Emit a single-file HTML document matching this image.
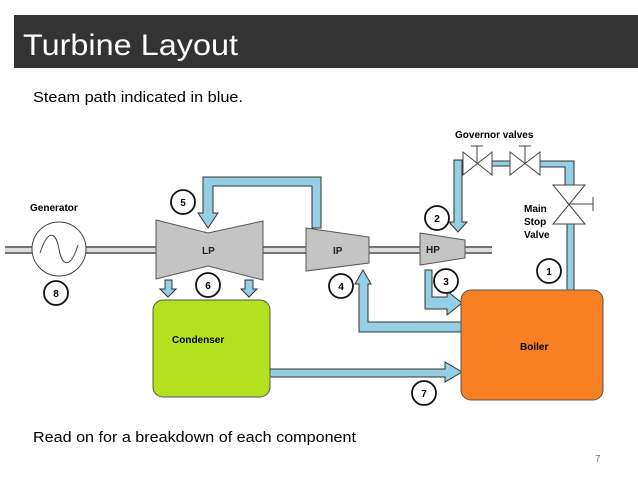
<!DOCTYPE html>
<html><head><meta charset="utf-8"><style>body{margin:0;background:#fff}svg{display:block}</style></head><body>
<svg width="638" height="479" viewBox="0 0 638 479" xmlns="http://www.w3.org/2000/svg" font-family="Liberation Sans, sans-serif">
<rect x="14" y="15" width="624" height="53" fill="#333"/>
<text x="23" y="55" font-size="30" fill="#fff" textLength="215" lengthAdjust="spacingAndGlyphs">Turbine Layout</text>
<text x="33" y="102" font-size="15" fill="#000" textLength="210" lengthAdjust="spacingAndGlyphs">Steam path indicated in blue.</text>
<text x="33" y="442" font-size="15" fill="#000" textLength="323" lengthAdjust="spacingAndGlyphs">Read on for a breakdown of each component</text>
<text x="595" y="462" font-size="10" fill="#777">7</text>

<g stroke="#333" stroke-width="1" fill="#95cfe3">
<!-- LP loop from IP -->
<path d="M203,177 H321 V228 H312 V186 H213 V213 H218 L208,228 L198,213 H203 Z"/>
<!-- LP bottom arrows -->
<path d="M165,280 H172 V289 H176 L168,297 L160,289 H165 Z"/>
<path d="M245,280 H253 V289 H257 L249,297 L241,289 H245 Z"/>
<!-- governor to HP -->
<path d="M462,160 H454 V222 H449 L458,232 L467,222 H462 Z"/>
<path d="M492,161 H510 V166 H492 Z"/>
<path d="M540,161 H574 V185 H565 V167 H540 Z"/>
<path d="M567,224 H574 V290 H567 Z"/>
<!-- HP out -->
<path d="M425,270 H432 V297 H447 V291 L462,303 L447,315 V309 H425 Z"/>
<!-- IP return -->
<path d="M359,332 V284 H355 L363,270 L371,284 H368 V322 H461 V332 Z"/>
<!-- condenser to boiler -->
<path d="M270,369 H445 V362 L462,372 L445,382 V377 H270 Z"/>
</g>

<!-- shaft -->
<g stroke="#222" stroke-width="1.2">
<line x1="5" y1="247" x2="492" y2="247"/><line x1="5" y1="253" x2="492" y2="253"/>
</g>
<rect x="5" y="248" width="487" height="4" fill="#ddd"/>

<!-- generator -->
<circle cx="59" cy="249" r="27" fill="#fff" stroke="#444"/>
<path d="M40,253 C48,228 56,232 59,249 C62,266 70,270 78,245" fill="none" stroke="#444"/>
<text x="30" y="211" font-size="10" font-weight="bold">Generator</text>

<!-- turbines -->
<g fill="#c4c4c4" stroke="#555">
<polygon points="156,220 208,233 263,221 263,280 208,266 156,279"/>
<polygon points="306,228 369,237 369,263 306,271"/>
<polygon points="420,233 465,240 465,258 420,265"/>
</g>
<g font-size="10" font-weight="bold" fill="#222">
<text x="202" y="254">LP</text><text x="333" y="254">IP</text><text x="426" y="253">HP</text>
</g>

<!-- valves -->
<g fill="#fff" stroke="#444">
<path d="M463,152 L492,175 V152 L463,175 Z"/>
<path d="M510,152 L540,175 V152 L510,175 Z"/>
<path d="M553,185 H585 L553,224 H585 Z"/>
</g>
<g stroke="#444">
<line x1="477" y1="146" x2="477" y2="163"/><line x1="471" y1="146" x2="483" y2="146"/>
<line x1="525" y1="146" x2="525" y2="163"/><line x1="519" y1="146" x2="531" y2="146"/>
<line x1="569" y1="204" x2="593" y2="204"/><line x1="593" y1="197" x2="593" y2="211"/>
</g>
<text x="455" y="138" font-size="10" font-weight="bold">Governor valves</text>
<g font-size="10" font-weight="bold"><text x="524" y="212">Main</text><text x="524" y="225">Stop</text><text x="524" y="238">Valve</text></g>

<!-- boxes -->
<rect x="153" y="300" width="117" height="97" rx="10" fill="#b3e11e" stroke="#555"/>
<text x="172" y="343" font-size="10" font-weight="bold">Condenser</text>
<rect x="461" y="290" width="142" height="110" rx="10" fill="#f97f23" stroke="#555"/>
<text x="520" y="350" font-size="10" font-weight="bold">Boiler</text>

<!-- numbers -->
<g fill="#fff" stroke="#111" stroke-width="1.8">
<circle cx="183" cy="202" r="12"/><circle cx="208" cy="285" r="12"/><circle cx="56" cy="293" r="12"/>
<circle cx="341" cy="286" r="12"/><circle cx="437" cy="218" r="12"/><circle cx="446" cy="281" r="12"/>
<circle cx="549" cy="271" r="12"/><circle cx="424" cy="393" r="12"/>
</g>
<g font-size="10" font-weight="bold" text-anchor="middle">
<text x="183" y="206">5</text><text x="208" y="289">6</text><text x="56" y="297">8</text>
<text x="341" y="290">4</text><text x="437" y="222">2</text><text x="446" y="285">3</text>
<text x="549" y="275">1</text><text x="424" y="397">7</text>
</g>
</svg>
</body></html>
